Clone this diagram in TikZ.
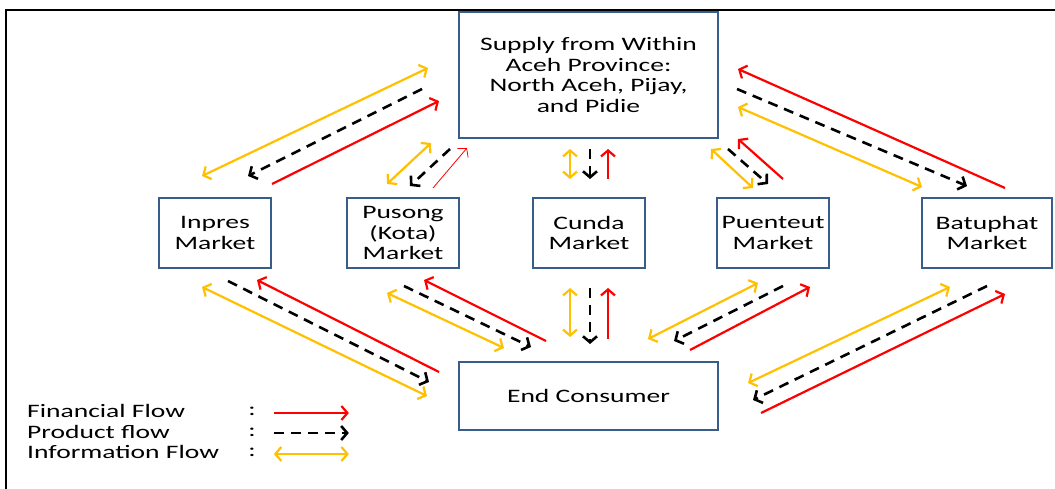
\documentclass[tikz,border=0pt]{standalone}
\usepackage{fontspec}
\setmainfont[FakeStretch=1.45]{Carlito}
\usetikzlibrary{arrows.meta}
\definecolor{boxblue}{RGB}{56,93,138}
\definecolor{infoyellow}{RGB}{255,192,0}
\tikzset{
	box/.style={draw=boxblue, line width=2pt, fill=white, align=center, inner sep=0pt},
	fin/.style={draw=red, line width=2.2pt, -{Straight Barb[length=6pt,width=14pt]}},
	prod/.style={draw=black, line width=2.6pt, dash pattern=on 10pt off 7pt, -{Straight Barb[length=6pt,width=14pt]}},
	info/.style={draw=infoyellow, line width=2.2pt, {Straight Barb[length=6pt,width=14pt]}-{Straight Barb[length=6pt,width=14pt]}},
	legtext/.style={anchor=west, inner sep=0pt}
}
\begin{document}
\begin{tikzpicture}[x=1pt, y=-1pt, font=\fontsize{19}{20.5}\selectfont]
	\useasboundingbox (0,0) rectangle (1055,489);
	% frame
	\draw[line width=2.4pt] (6,1000) |- (2000,10);
	
	\node[box, minimum width=259pt, minimum height=126pt] (supply) at (588.5,75)
		{Supply from Within\\Aceh Province:\\North Aceh, Pijay,\\and Pidie};
	\node[box, minimum width=112pt, minimum height=70pt] (inpres) at (215,233) {Inpres\\Market};
	\node[box, minimum width=112pt, minimum height=70pt] (pusong) at (403,233) {Pusong\\(Kota)\\Market};
	\node[box, minimum width=112pt, minimum height=70pt] (cunda) at (589,233) {Cunda\\Market};
	\node[box, minimum width=112pt, minimum height=70pt] (puenteut) at (773,233) {Puenteut\\Market};
	\node[box, minimum width=130pt, minimum height=70pt] (batuphat) at (987,233) {Batuphat\\Market};
	\node[box, minimum width=259pt, minimum height=68pt] (consumer) at (588.5,396) {End Consumer};
	
	% market <-> supply
	\draw[info] ([shift={(-13,-21)}]inpres.north) -- ([shift={(-30,-71)}]supply.south west);
	\draw[prod] ([shift={(-36,-50)}]supply.south west) -- ([shift={(33,-21)}]inpres.north);
	\draw[fin] ([shift={(57,-13)}]inpres.north) -- ([shift={(-19,-38)}]supply.south west);
	
	\draw[info] ([shift={(-16,-13)}]pusong.north) -- ([shift={(-27,4)}]supply.south west);
	\draw[prod] ([shift={(-8,10)}]supply.south west) -- ([shift={(7,-11)}]pusong.north);
	\draw[fin, line width=0.8pt] ([shift={(30,-9)}]pusong.north) -- ([shift={(9,9)}]supply.south west);
	
	\draw[info] ([shift={(-19,-18)}]cunda.north) -- ([shift={(-18.5,10)}]supply.south);
	\draw[prod] ([shift={(1.5,10)}]supply.south) -- ([shift={(1,-18)}]cunda.north);
	\draw[fin] ([shift={(19,-18)}]cunda.north) -- ([shift={(19.5,10)}]supply.south);
	
	\draw[info] ([shift={(-8,10)}]supply.south east) -- ([shift={(-20,-9)}]puenteut.north);
	\draw[prod] ([shift={(9,10)}]supply.south east) -- ([shift={(-5,-13)}]puenteut.north);
	\draw[fin] ([shift={(10,-18)}]puenteut.north) -- ([shift={(19,0)}]supply.south east);
	
	\draw[fin] ([shift={(18,-9)}]batuphat.north) -- ([shift={(19,-70)}]supply.south east);
	\draw[prod] ([shift={(18,-50)}]supply.south east) -- ([shift={(-20,-11)}]batuphat.north);
	\draw[info] ([shift={(19,-32)}]supply.south east) -- ([shift={(-65,-10)}]batuphat.north);
	
	% market <-> consumer
	\draw[info] ([shift={(-13,18)}]inpres.south) -- ([shift={(-31,35)}]consumer.north west);
	\draw[prod] ([shift={(13,12)}]inpres.south) -- ([shift={(-29,21)}]consumer.north west);
	\draw[fin] ([shift={(-19,11)}]consumer.north west) -- ([shift={(42,11)}]inpres.south);
	
	\draw[info] ([shift={(-16,24)}]pusong.south) -- ([shift={(46,-13)}]consumer.north west);
	\draw[prod] ([shift={(1,17)}]pusong.south) -- ([shift={(73,-14)}]consumer.north west);
	\draw[fin] ([shift={(88,-20)}]consumer.north west) -- ([shift={(21,11)}]pusong.south);
	
	\draw[info] ([shift={(-19,19)}]cunda.south) -- ([shift={(-18.5,-24)}]consumer.north);
	\draw[prod] ([shift={(1,19)}]cunda.south) -- ([shift={(1.5,-17)}]consumer.north);
	\draw[fin] ([shift={(19.5,-22)}]consumer.north) -- ([shift={(19,19)}]cunda.south);
	
	\draw[info] ([shift={(-71,-22)}]consumer.north east) -- ([shift={(-15,14)}]puenteut.south);
	\draw[prod] ([shift={(10,17)}]puenteut.south) -- ([shift={(-45,-20)}]consumer.north east);
	\draw[fin] ([shift={(-29,-11)}]consumer.north east) -- ([shift={(37,18)}]puenteut.south);
	
	\draw[info] ([shift={(29,-13)}]consumer.east) -- ([shift={(-37,18)}]batuphat.south);
	\draw[prod] ([shift={(0,17)}]batuphat.south) -- ([shift={(34,4)}]consumer.east);
	\draw[fin] ([shift={(42,17)}]consumer.east) -- ([shift={(18,25)}]batuphat.south);
	
	% legend
	\node[legtext] (lfin) at (27,411) {Financial Flow};
	\node[legtext] (lprod) at (27,432) {Product flow};
	\node[legtext] (linfo) at (27,452) {Information Flow};
	\node[inner sep=0pt] (cfin) at (252,411) {:};
	\node[inner sep=0pt] (cprod) at (252,432) {:};
	\node[inner sep=0pt] (cinfo) at (252,452) {:};
	\draw[fin] ([xshift=18pt,yshift=-2pt]cfin.east) -- ++(75,0);
	\draw[prod] ([xshift=18pt,yshift=-1pt]cprod.east) -- ++(75,0);
	\draw[info] ([xshift=18pt,yshift=-2pt]cinfo.east) -- ++(75,0);
\end{tikzpicture}
\end{document}
